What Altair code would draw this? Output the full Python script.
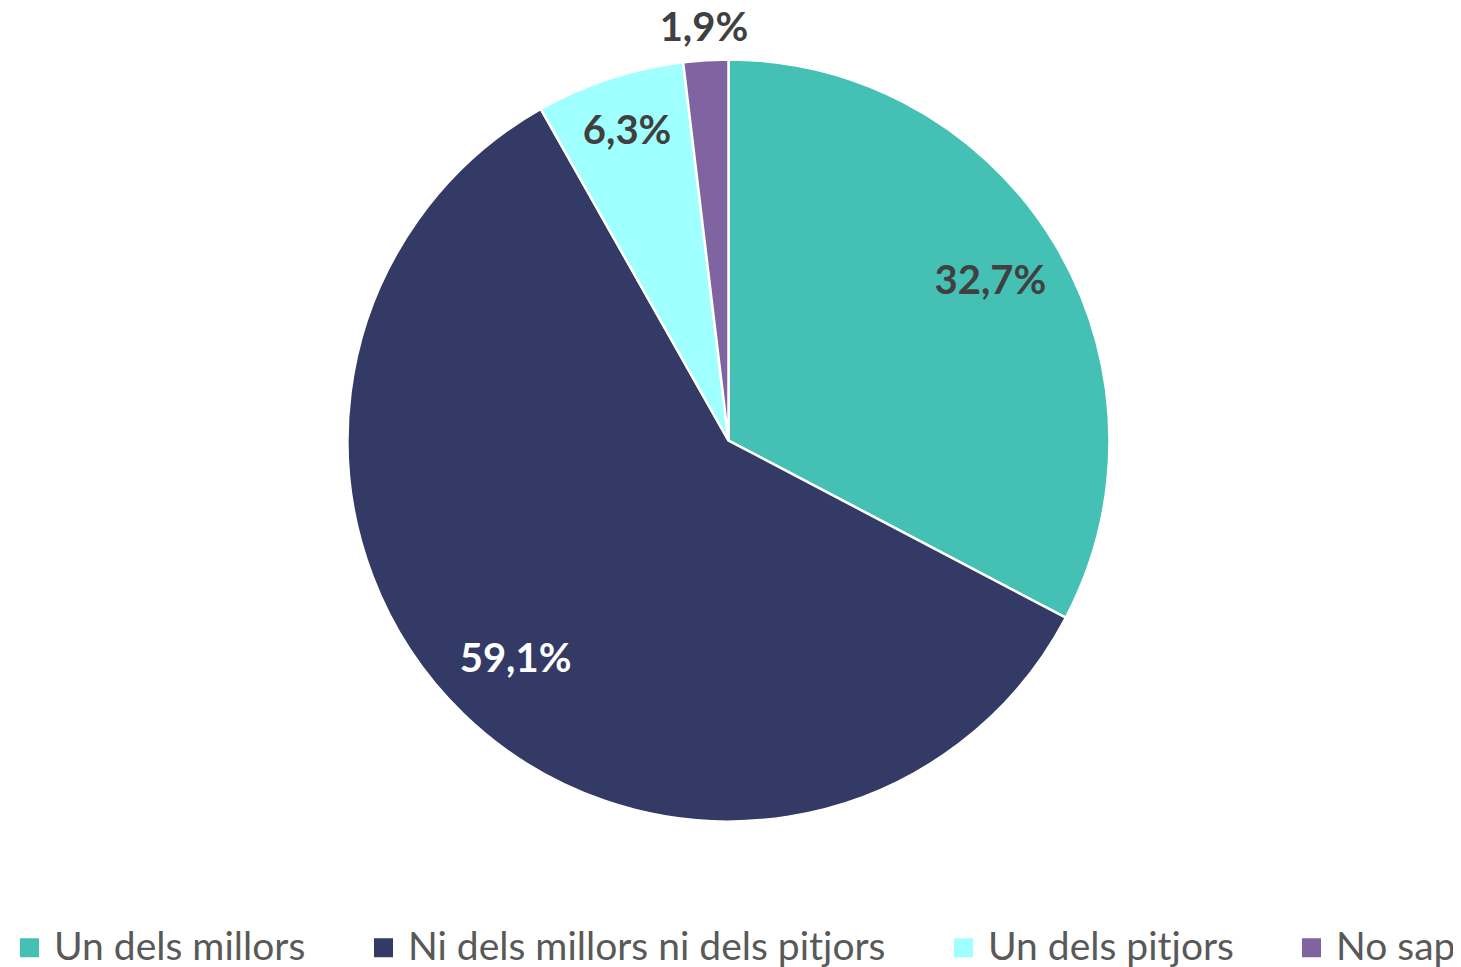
import altair as alt
import pandas as pd

categories = ["Un dels millors", "Ni dels millors ni dels pitjors", "Un dels pitjors", "No sap"]
values = [32.7, 59.1, 6.3, 1.9]
labels = ["32,7%", "59,1%", "6,3%", "1,9%"]
colors = ["#45C0B5", "#333A66", "#A0FFFF", "#8064A2"]

df = pd.DataFrame({
    "cat": categories,
    "value": values,
    "label": labels,
    "order": list(range(len(categories))),
})

CX, CY, R = 720.5, 432.5, 381
theta_scale = alt.Scale(domain=[0, 100])

pie = alt.Chart(df).mark_arc(radius=R, stroke="white", strokeWidth=2.5).encode(
    theta=alt.Theta("value:Q", stack=True, scale=theta_scale),
    order=alt.Order("order:Q"),
    x=alt.value(CX),
    y=alt.value(CY),
    color=alt.Color(
        "cat:N",
        scale=alt.Scale(domain=categories, range=colors),
        sort=categories,
        legend=alt.Legend(
            title=None,
            orient="none",
            direction="horizontal",
            legendX=2,
            legendY=920,
            symbolType="square",
            symbolSize=361,
            symbolStrokeWidth=0,
            labelFontSize=39,
            labelFont="Lato",
            labelColor="#595959",
            labelOffset=5,
            columnPadding=58,
            labelLimit=1000,
            padding=0,
        ),
    ),
)

text = alt.Chart(df).transform_window(
    cum="sum(value)", sort=[alt.SortField("order")], frame=[None, 0]
).transform_calculate(
    mid="datum.cum - datum.value / 2",
    lr="datum.value < 3 ? 412 : (datum.value < 10 ? 325 : 306)",
).mark_text(font="Lato", fontWeight="bold", fontSize=40).encode(
    theta=alt.Theta("mid:Q", stack=None, scale=theta_scale),
    radius=alt.Radius("lr:Q", scale=None),
    x=alt.value(CX),
    y=alt.value(CY),
    text="label:N",
    color=alt.condition("datum.value > 50", alt.value("white"), alt.value("#404040")),
)

chart = alt.layer(pie, text).properties(
    width=1445,
    height=959,
    padding=0,
    background="white",
    autosize=alt.AutoSizeParams(type="none"),
).configure_view(strokeWidth=0)

chart.save("out.html", embed_options={"renderer": "svg", "actions": False})
